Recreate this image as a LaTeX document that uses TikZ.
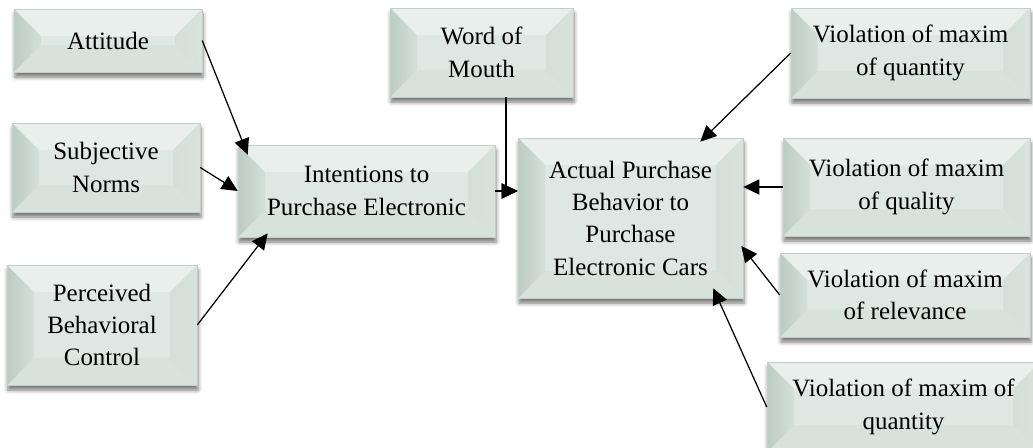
\documentclass[tikz,border=0pt]{standalone}
\usepackage{fontspec}
\setmainfont{Liberation Serif}
\usetikzlibrary{arrows.meta,calc,shadows.blur}

\definecolor{boxfill}{RGB}{222,231,227}
\definecolor{boxedge}{RGB}{196,206,201}
\definecolor{bevdark}{RGB}{188,203,196}
\definecolor{bevmid}{RGB}{212,223,218}
\definecolor{bevlight}{RGB}{233,239,236}
\definecolor{bevlow}{RGB}{216,226,221}

\begin{document}
\begin{tikzpicture}[
    x=0.2mm, y=-0.2mm,
    every node/.style={font=\fontsize{14.2}{18.4}\selectfont, align=center},
    block/.style={rectangle, draw=boxedge, line width=0.3pt, fill=boxfill, inner sep=2pt,
                  blur shadow={shadow xshift=0.2mm, shadow yshift=-1mm,
                               shadow blur radius=0.8mm, shadow opacity=55},
                  path picture={
                    \fill[bevlight] (path picture bounding box.north west) -- ++(5.4mm,-5.4mm)
                        -- ([shift={(-5.4mm,-5.4mm)}]path picture bounding box.north east)
                        -- (path picture bounding box.north east) -- cycle;
                    \fill[bevlow] (path picture bounding box.south west) -- ++(5.4mm,5.4mm)
                        -- ([shift={(-5.4mm,5.4mm)}]path picture bounding box.south east)
                        -- (path picture bounding box.south east) -- cycle;
                    \shade[left color=bevdark, right color=bevmid]
                        (path picture bounding box.north west) -- ++(5.4mm,-5.4mm)
                        -- ([shift={(5.4mm,5.4mm)}]path picture bounding box.south west)
                        -- (path picture bounding box.south west) -- cycle;
                    \shade[left color=bevmid, right color=bevlow]
                        (path picture bounding box.north east) -- ++(-5.4mm,-5.4mm)
                        -- ([shift={(-5.4mm,5.4mm)}]path picture bounding box.south east)
                        -- (path picture bounding box.south east) -- cycle;
                  }},
    arr/.style={-{Triangle[length=3.2mm, width=3mm]}, line width=0.25mm},
]
    \useasboundingbox (0,0) rectangle (1033,448);
    % left column
    \node[block, minimum width=37.6mm, minimum height=12.6mm] (att) at (108, 40.5) {Attitude};
    \node[block, minimum width=37.6mm, minimum height=17.8mm] (sn) at (106, 167.5) {Subjective\\ Norms};
    \node[block, minimum width=38mm, minimum height=24mm] (pbc) at (102, 325) {Perceived\\ Behavioral\\ Control};
    % middle
    \node[block, minimum width=51.4mm, minimum height=18.4mm] (int) at (366.5, 191) {Intentions to\\ Purchase Electronic};
    \node[block, minimum width=36.6mm, minimum height=17.8mm] (wom) at (481.5, 52.5) {Word of\\ Mouth};
    \node[block, minimum width=45mm, minimum height=32mm] (act) at (630.5, 218) {Actual Purchase\\ Behavior to\\ Purchase\\ Electronic Cars};
    % right column
    \node[block, minimum width=47.8mm, minimum height=18mm] (vq1) at (910.5, 53) {Violation of maxim\\ of quantity};
    \node[block, minimum width=49.4mm, minimum height=19.6mm] (vql) at (906.5, 187) {Violation of maxim\\ of quality};
    \node[block, minimum width=50mm, minimum height=16.8mm] (vrl) at (905, 295) {Violation of maxim\\ of relevance};
    \node[block, minimum width=54.6mm, minimum height=18mm] (vq2) at (903.5, 407) {Violation of maxim of\\ quantity};

    \draw[arr] (att.east) -- ($(int.north west)+(10,10)$);
    \draw[arr] (sn.east) -- (int.west);
    \draw[arr] (pbc.east) -- ($(int.south west)+(30,-4)$);
    \draw[arr] (int.east) -- (int.east -| act.west);
    \draw[arr] ([xshift=4.9mm]wom.south) |- (int.east -| act.west);
    \draw[arr] (vq1.west) -- ($(act.north east)+(-43,4)$);
    \draw[arr] (vql.west) -- (vql.west -| act.east);
    \draw[arr] (vrl.west) -- ($(act.east)+(-2,28)$);
    \draw[arr] (vq2.west) -- ($(act.south east)+(-30,-10)$);
\end{tikzpicture}
\end{document}
